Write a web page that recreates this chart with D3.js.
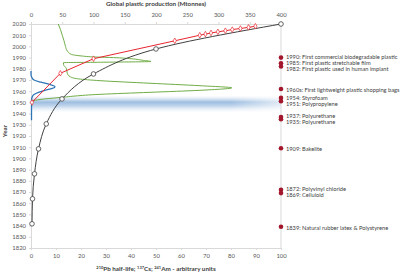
<!DOCTYPE html>
<html>
<head>
<meta charset="utf-8">
<script src="https://cdnjs.cloudflare.com/ajax/libs/d3/7.8.5/d3.min.js"></script>
<style>
  body { margin: 0; background: #fff; }
  svg { display: block; font-family: Lato, "Open Sans", sans-serif; }
  .axis text { fill: #595959; font-size: 5.9px; font-family: Lato, sans-serif; }
  .axis path, .axis line { stroke: #d9d9d9; }
  .title { fill: #404040; font-size: 6.3px; font-weight: bold; }
  .event { fill: #404040; font-size: 5.7px; }
</style>
</head>
<body>
<div id="chart"></div>
<script>
// 210Pb half-life (bottom axis, arbitrary units)
var pbYears = [2020, 1997.7, 1975.4, 1953.1, 1930.8, 1908.5, 1886.2, 1863.9, 1841.6];
var pbValues = [100, 50, 25, 12.4, 6.1, 3.0, 1.4, 0.6, 0.4];

// global plastic production (top axis, Mtonnes)
var prodYears = [1950, 1976, 1989, 2005, 2010, 2011, 2012, 2013, 2014, 2015, 2016, 2017, 2018];
var prodValues = [1.5, 47, 100, 230, 270, 279, 288, 299, 311, 322, 335, 348, 359];

// 137Cs profile (bottom axis)
var csYears = [2020, 2015, 2010, 2005, 2000, 1996, 1993, 1991.5, 1990.5, 1990, 1989, 1987.5, 1986.5, 1985.9, 1985.5,
               1984, 1980, 1976, 1973, 1971, 1969.4, 1967.1, 1964.9, 1963, 1960.8, 1959, 1957.2, 1954.2, 1952.6, 1951.3, 1949.5];
var csValues = [10.9, 11.8, 12.5, 13.2, 13.8, 14.5, 16, 20, 26, 33, 40, 45, 48, 30, 13,
                13, 14.2, 14.5, 15.6, 19, 27.6, 47.6, 67.6, 80.3, 67.6, 47.6, 27.6, 10.8, 3.6, 0.8, 0];

// 241Am profile (bottom axis)
var amYears = [1978, 1975, 1972, 1970, 1968, 1966, 1964, 1962.5, 1961, 1959, 1957, 1955, 1952, 1945, 1934];
var amValues = [0, 0, 0.4, 1.2, 4, 7.5, 9.6, 8.5, 5.8, 3, 1.2, 0.5, 0.2, 0.2, 0.2];

// shaded period
var bandYears = [1956, 1941];

// plastic milestones
var eventYears = [1990, 1985, 1982, 1962, 1954, 1951, 1937, 1935, 1909, 1872, 1869, 1839];
var eventLabels = ["1990: First commercial biodegradable plastic",
                   "1985: First plastic stretchable film",
                   "1982: First plastic used in human implant",
                   "1960s: First lightweight plastic shopping bags",
                   "1954: Styrofoam",
                   "1951: Polypropylene",
                   "1937: Polyurethane",
                   "1935: Polyurethane",
                   "1909: Bakelite",
                   "1872: Polyvinyl chloride",
                   "1869: Celluloid",
                   "1839: Natural rubber latex & Polystyrene"];

// tick values
var yearTicks = d3.range(1820, 2021, 10);
var prodTicks = d3.range(0, 401, 50);
var arbTicks = d3.range(0, 101, 10);

// set the dimensions and margins of the graph
var margin = {top: 24, right: 119, bottom: 26, left: 31},
    width = 400 - margin.left - margin.right,
    height = 274 - margin.top - margin.bottom;

var svgRoot = d3.select("#chart").append("svg")
    .attr("width", 400)
    .attr("height", 274);

var svg = svgRoot.append("g")
    .attr("transform", "translate(" + margin.left + "," + margin.top + ")");

// set the ranges
var y = d3.scaleLinear().domain([1820, 2020]).range([height, 0]);
var xArb = d3.scaleLinear().domain([0, 100]).range([0, width]);
var xProd = d3.scaleLinear().domain([0, 400]).range([0, width]);

// gradients for the shaded band
var defs = svgRoot.append("defs");
var grad = defs.append("linearGradient")
    .attr("id", "bandGrad")
    .attr("x1", 0).attr("y1", 0).attr("x2", 0).attr("y2", 1);
grad.append("stop").attr("offset", "0%").attr("stop-color", "#c9dcef").attr("stop-opacity", 0);
grad.append("stop").attr("offset", "38%").attr("stop-color", "#9dbde0").attr("stop-opacity", 1);
grad.append("stop").attr("offset", "60%").attr("stop-color", "#b2cbe7").attr("stop-opacity", 0.85);
grad.append("stop").attr("offset", "100%").attr("stop-color", "#dfeaf5").attr("stop-opacity", 0);

var fade = defs.append("linearGradient")
    .attr("id", "fadeGrad")
    .attr("x1", 0).attr("y1", 0).attr("x2", 1).attr("y2", 0);
fade.append("stop").attr("offset", "0%").attr("stop-color", "#fff");
fade.append("stop").attr("offset", "80%").attr("stop-color", "#fff");
fade.append("stop").attr("offset", "100%").attr("stop-color", "#555");

defs.append("mask").attr("id", "bandMask")
    .attr("maskUnits", "userSpaceOnUse")
  .append("rect")
    .attr("x", 0).attr("y", 0)
    .attr("width", width).attr("height", height)
    .attr("fill", "url(#fadeGrad)");

svg.append("rect")
    .attr("x", 0)
    .attr("y", y(bandYears[0]))
    .attr("width", width)
    .attr("height", y(bandYears[1]) - y(bandYears[0]))
    .attr("fill", "url(#bandGrad)")
    .attr("mask", "url(#bandMask)");

// axes
svg.append("g")
    .attr("class", "axis")
    .call(d3.axisLeft(y).tickValues(yearTicks).tickFormat(d3.format("d")).tickSize(2).tickPadding(3));

svg.append("g")
    .attr("class", "axis")
    .call(d3.axisTop(xProd).tickValues(prodTicks).tickSize(2).tickPadding(5));

svg.append("g")
    .attr("class", "axis")
    .attr("transform", "translate(0," + height + ")")
    .call(d3.axisBottom(xArb).tickValues(arbTicks).tickSize(2).tickPadding(4));

svg.append("line")
    .attr("x1", width).attr("x2", width)
    .attr("y1", 0).attr("y2", height)
    .attr("stroke", "#d9d9d9");

// line builder
function makeLine(xs, ys, xScale, curve) {
  var pts = ys.map(function(d, i) { return [xScale(xs[i]), y(d)]; });
  return d3.line().curve(curve)(pts);
}

// 137Cs
svg.append("path")
    .attr("d", makeLine(csValues, csYears, xArb, d3.curveMonotoneY))
    .attr("fill", "none")
    .attr("stroke", "#70ad47")
    .attr("stroke-width", 1);

// 241Am
svg.append("path")
    .attr("d", makeLine(amValues, amYears, xArb, d3.curveMonotoneY))
    .attr("fill", "none")
    .attr("stroke", "#2e75b6")
    .attr("stroke-width", 1.3);

// 210Pb
svg.append("path")
    .attr("d", makeLine(pbValues, pbYears, xArb, d3.curveMonotoneY))
    .attr("fill", "none")
    .attr("stroke", "#404040")
    .attr("stroke-width", 1);

svg.selectAll(".pb")
    .data(pbYears)
  .enter().append("circle")
    .attr("class", "pb")
    .attr("cx", function(d, i) { return xArb(pbValues[i]); })
    .attr("cy", function(d) { return y(d); })
    .attr("r", 2.3)
    .attr("fill", "#fff")
    .attr("stroke", "#404040")
    .attr("stroke-width", 0.8);

// plastic production
svg.append("path")
    .attr("d", makeLine(prodValues, prodYears, xProd, d3.curveLinear))
    .attr("fill", "none")
    .attr("stroke", "#e8262f")
    .attr("stroke-width", 1);

svg.selectAll(".prod")
    .data(prodYears)
  .enter().append("path")
    .attr("class", "prod")
    .attr("d", d3.symbol().type(d3.symbolDiamond).size(9))
    .attr("transform", function(d, i) { return "translate(" + xProd(prodValues[i]) + "," + y(d) + ")"; })
    .attr("fill", "#fff")
    .attr("stroke", "#e8262f")
    .attr("stroke-width", 0.7);

// milestone dots
svg.selectAll(".event-dot")
    .data(eventYears)
  .enter().append("circle")
    .attr("class", "event-dot")
    .attr("cx", width)
    .attr("cy", function(d) { return y(d); })
    .attr("r", 2.3)
    .attr("fill", "#a3162c");

// spread labels so they do not overlap
var labelPos = eventYears.map(function(d) { return y(d); });
for (var k = 0; k < 40; k++) {
  for (var i = 1; i < labelPos.length; i++) {
    var gap = labelPos[i] - labelPos[i - 1];
    if (gap < 6) {
      labelPos[i - 1] -= (6 - gap) / 2;
      labelPos[i] += (6 - gap) / 2;
    }
  }
}

svg.selectAll(".event")
    .data(eventLabels)
  .enter().append("text")
    .attr("class", "event")
    .attr("x", width + 5)
    .attr("y", function(d, i) { return labelPos[i] + 1; })
    .attr("dy", "0.35em")
    .text(function(d) { return d; });

// axis titles
svgRoot.append("text")
    .attr("class", "title")
    .attr("x", margin.left + width / 2)
    .attr("y", 6)
    .attr("text-anchor", "middle")
    .text("Global plastic production (Mtonnes)");

var bottomTitle = svgRoot.append("text")
    .attr("class", "title")
    .attr("x", margin.left + width / 2)
    .attr("y", 271)
    .attr("text-anchor", "middle");
bottomTitle.append("tspan").attr("font-size", "4px").attr("dy", "-2").text("210");
bottomTitle.append("tspan").attr("dy", "2").text("Pb half-life; ");
bottomTitle.append("tspan").attr("font-size", "4px").attr("dy", "-2").text("137");
bottomTitle.append("tspan").attr("dy", "2").text("Cs; ");
bottomTitle.append("tspan").attr("font-size", "4px").attr("dy", "-2").text("241");
bottomTitle.append("tspan").attr("dy", "2").text("Am - arbitrary units");

svgRoot.append("text")
    .attr("class", "title")
    .attr("transform", "translate(7,131) rotate(-90)")
    .attr("text-anchor", "middle")
    .text("Year");
</script>
</body>
</html>
